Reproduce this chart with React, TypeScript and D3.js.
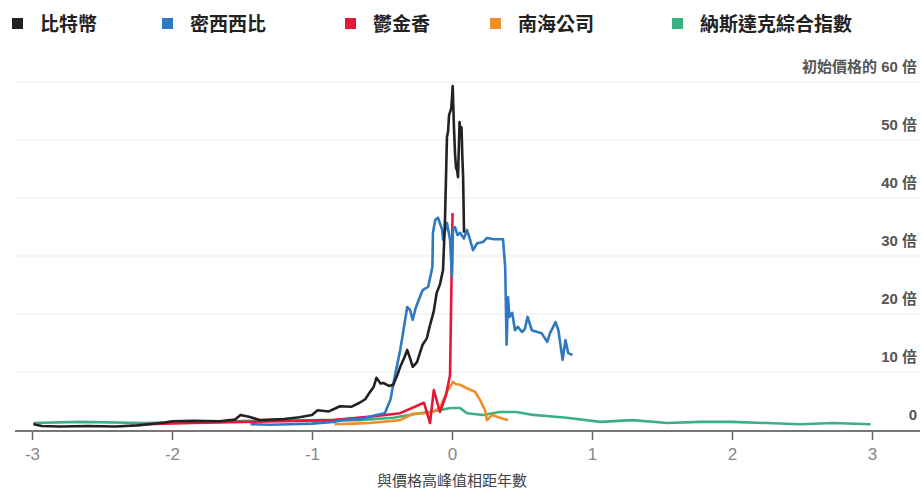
import React, { useEffect, useRef } from "react";
import * as d3 from "d3";

// [years from peak, multiple of initial price]
const bitcoin: [number, number][] = [
  [-2.99, 1.0], [-2.93, 0.7], [-2.8, 0.6], [-2.6, 0.7], [-2.4, 0.6], [-2.25, 0.8],
  [-2.16, 1.0], [-2.05, 1.3], [-2.0, 1.5], [-1.85, 1.6], [-1.66, 1.5], [-1.55, 1.8],
  [-1.51, 2.6], [-1.45, 2.3], [-1.37, 1.7], [-1.2, 1.9], [-1.09, 2.2], [-1.0, 2.6],
  [-0.96, 3.4], [-0.88, 3.2], [-0.8, 4.1], [-0.72, 4.0], [-0.66, 4.7], [-0.62, 5.3],
  [-0.59, 6.4], [-0.56, 7.4], [-0.54, 9.0], [-0.51, 8.0], [-0.49, 8.1], [-0.45, 7.6],
  [-0.42, 7.8], [-0.39, 9.5], [-0.37, 10.9], [-0.34, 12.5], [-0.32, 13.8], [-0.3, 12.4],
  [-0.28, 10.9], [-0.25, 11.7], [-0.23, 13.2], [-0.21, 14.7], [-0.18, 15.8], [-0.16, 17.8],
  [-0.13, 20.5], [-0.11, 23.6], [-0.085, 25.2], [-0.064, 27.6], [-0.05, 36.2],
  [-0.036, 50.5], [-0.028, 51.5], [-0.021, 54.3], [-0.005, 55.5], [0.005, 59.3],
  [0.014, 52.2], [0.022, 47.5], [0.029, 45.2], [0.036, 44.8], [0.043, 43.6],
  [0.054, 53.1], [0.061, 51.0], [0.068, 52.2], [0.074, 47.0], [0.079, 44.0], [0.086, 34.0],
];

const mississippi: [number, number][] = [
  [-1.44, 1.0], [-1.3, 0.9], [-1.16, 1.0], [-1.0, 1.1], [-0.85, 1.4], [-0.78, 1.7],
  [-0.65, 1.9], [-0.54, 2.6], [-0.48, 2.9], [-0.44, 5.2], [-0.41, 9.1], [-0.37, 13.8],
  [-0.35, 16.7], [-0.32, 21.2], [-0.3, 20.7], [-0.28, 19.0], [-0.26, 21.0], [-0.23, 22.9],
  [-0.21, 24.1], [-0.17, 24.7], [-0.14, 28.1], [-0.136, 34.0], [-0.12, 36.2], [-0.1, 36.6],
  [-0.07, 34.5], [-0.064, 32.8], [-0.036, 35.7], [-0.014, 32.8], [0.0, 26.4],
  [0.007, 34.5], [0.021, 35.0], [0.04, 33.6], [0.057, 34.0], [0.085, 33.0], [0.107, 34.5],
  [0.129, 32.8], [0.15, 31.0], [0.18, 32.2], [0.22, 32.4], [0.25, 33.1], [0.3, 32.9],
  [0.364, 32.9], [0.38, 28.1], [0.39, 14.7], [0.4, 22.9], [0.41, 19.5], [0.43, 20.2],
  [0.45, 17.2], [0.47, 17.8], [0.5, 16.9], [0.52, 17.4], [0.54, 19.5], [0.57, 17.2],
  [0.61, 16.9], [0.64, 16.7], [0.68, 15.2], [0.7, 16.7], [0.74, 18.6], [0.76, 17.2],
  [0.79, 12.1], [0.81, 15.5], [0.83, 13.3], [0.86, 12.9],
];

const tulip: [number, number][] = [
  [-2.2, 1.0], [-1.85, 1.2], [-1.49, 1.4], [-1.2, 1.5], [-0.85, 1.7], [-0.54, 2.4],
  [-0.37, 2.9], [-0.2, 4.7], [-0.157, 1.2], [-0.13, 6.9], [-0.086, 3.1],
  [-0.043, 6.0], [-0.014, 9.5], [0.004, 37.4],
];

const southSea: [number, number][] = [
  [-0.84, 1.0], [-0.7, 1.1], [-0.59, 1.2], [-0.45, 1.5], [-0.37, 1.7], [-0.28, 2.8],
  [-0.19, 2.9], [-0.13, 3.2], [-0.086, 3.8], [-0.036, 6.6], [0.007, 8.3], [0.03, 7.9],
  [0.057, 7.8], [0.107, 7.2], [0.164, 6.6], [0.2, 5.2], [0.236, 3.4], [0.25, 1.7],
  [0.286, 2.6], [0.343, 2.1], [0.4, 1.7],
];

const nasdaq: [number, number][] = [
  [-2.99, 1.2], [-2.66, 1.4], [-2.21, 1.2], [-1.8, 1.4], [-1.37, 1.6], [-0.94, 1.7],
  [-0.66, 1.7], [-0.42, 2.1], [-0.23, 2.9], [-0.086, 3.4], [-0.014, 3.8], [0.057, 3.8],
  [0.107, 2.9], [0.22, 2.6], [0.34, 3.1], [0.46, 3.1], [0.58, 2.6], [0.82, 2.1],
  [1.06, 1.4], [1.29, 1.7], [1.54, 1.2], [1.77, 1.4], [2.0, 1.4], [2.25, 1.2],
  [2.49, 1.0], [2.72, 1.2], [2.99, 1.0],
];

const seriesNames = ["比特幣", "密西西比", "鬱金香", "南海公司", "納斯達克綜合指數"];
const seriesColors = ["#222222", "#2f79c3", "#e5173b", "#f08f2a", "#3cb083"];
const seriesData = [bitcoin, mississippi, tulip, southSea, nasdaq];
const drawOrder = [4, 3, 2, 1, 0];

const xTicks = [-3, -2, -1, 0, 1, 2, 3];
const yTicks = [0, 10, 20, 30, 40, 50, 60];
const legendX = [12, 162, 345, 490, 672];

const App: React.FC = () => {
  const svgRef = useRef<SVGSVGElement | null>(null);

  useEffect(() => {
    document.body.style.margin = "0";
    if (!svgRef.current) return;
    const svg = d3.select(svgRef.current);
    svg.selectAll("*").remove();

    const width = 922;
    const height = 489;
    const font = "'Liberation Sans', 'Noto Sans CJK TC', sans-serif";

    svg.attr("width", width).attr("height", height).style("font-family", font);

    const x = d3.scaleLinear().domain([-3, 3]).range([32, 872]);
    const y = d3.scaleLinear().domain([0, 60]).range([430, 82]);

    // gridlines
    svg
      .append("g")
      .selectAll("line")
      .data(yTicks.filter((d) => d > 0))
      .enter()
      .append("line")
      .attr("x1", 15)
      .attr("x2", 920)
      .attr("y1", (d) => y(d))
      .attr("y2", (d) => y(d))
      .attr("stroke", "#ebebeb")
      .attr("stroke-width", 1);

    // right-hand labels
    svg
      .append("g")
      .selectAll("text")
      .data(yTicks)
      .enter()
      .append("text")
      .attr("x", 917)
      .attr("y", (d) => y(d) - 10)
      .attr("text-anchor", "end")
      .attr("font-size", "15px")
      .attr("font-weight", "bold")
      .attr("fill", "#555")
      .text((d) => (d === 0 ? "0" : d === 60 ? `初始價格的 ${d} 倍` : `${d} 倍`));

    // x axis
    const xAxis = d3
      .axisBottom(x)
      .tickValues(xTicks)
      .tickSize(9)
      .tickPadding(8)
      .tickFormat((d) => `${d}`);
    const gx = svg
      .append("g")
      .attr("transform", `translate(0, ${y(0) + 1})`)
      .call(xAxis);
    gx.select(".domain").remove();
    gx.selectAll(".tick line").attr("stroke", "#666").attr("stroke-width", 1.5);
    gx.selectAll(".tick text")
      .attr("fill", "#888")
      .attr("font-size", "17px")
      .attr("font-family", font)
      .text((d) => `${d}`.replace("-", "-"));
    svg
      .append("line")
      .attr("x1", 15)
      .attr("x2", 920)
      .attr("y1", y(0) + 1)
      .attr("y2", y(0) + 1)
      .attr("stroke", "#777")
      .attr("stroke-width", 2);

    svg
      .append("text")
      .attr("x", x(0))
      .attr("y", 486)
      .attr("text-anchor", "middle")
      .attr("font-size", "15px")
      .attr("fill", "#444")
      .style("font-family", "'Noto Sans CJK TC', sans-serif")
      .text("與價格高峰值相距年數");

    // lines
    const line = d3
      .line<[number, number]>()
      .x((d) => x(d[0]))
      .y((d) => y(d[1]))
      .curve(d3.curveLinear);

    drawOrder.forEach((i) => {
      svg
        .append("path")
        .datum(seriesData[i])
        .attr("fill", "none")
        .attr("stroke", seriesColors[i])
        .attr("stroke-width", 2.6)
        .attr("stroke-linejoin", "round")
        .attr("d", line);
    });

    // legend
    const legend = svg
      .append("g")
      .selectAll("g")
      .data(seriesNames)
      .enter()
      .append("g")
      .attr("transform", (_, i) => `translate(${legendX[i]}, 0)`);
    legend
      .append("rect")
      .attr("x", 0)
      .attr("y", 18)
      .attr("width", 11)
      .attr("height", 11)
      .attr("fill", (_, i) => seriesColors[i]);
    legend
      .append("text")
      .attr("x", 28)
      .attr("y", 31)
      .attr("font-size", "19px")
      .attr("font-weight", "bold")
      .attr("fill", "#222")
      .style("font-family", "'Noto Sans CJK TC', sans-serif")
      .text((d) => d);
  }, []);

  return <svg ref={svgRef}></svg>;
};

export default App;
